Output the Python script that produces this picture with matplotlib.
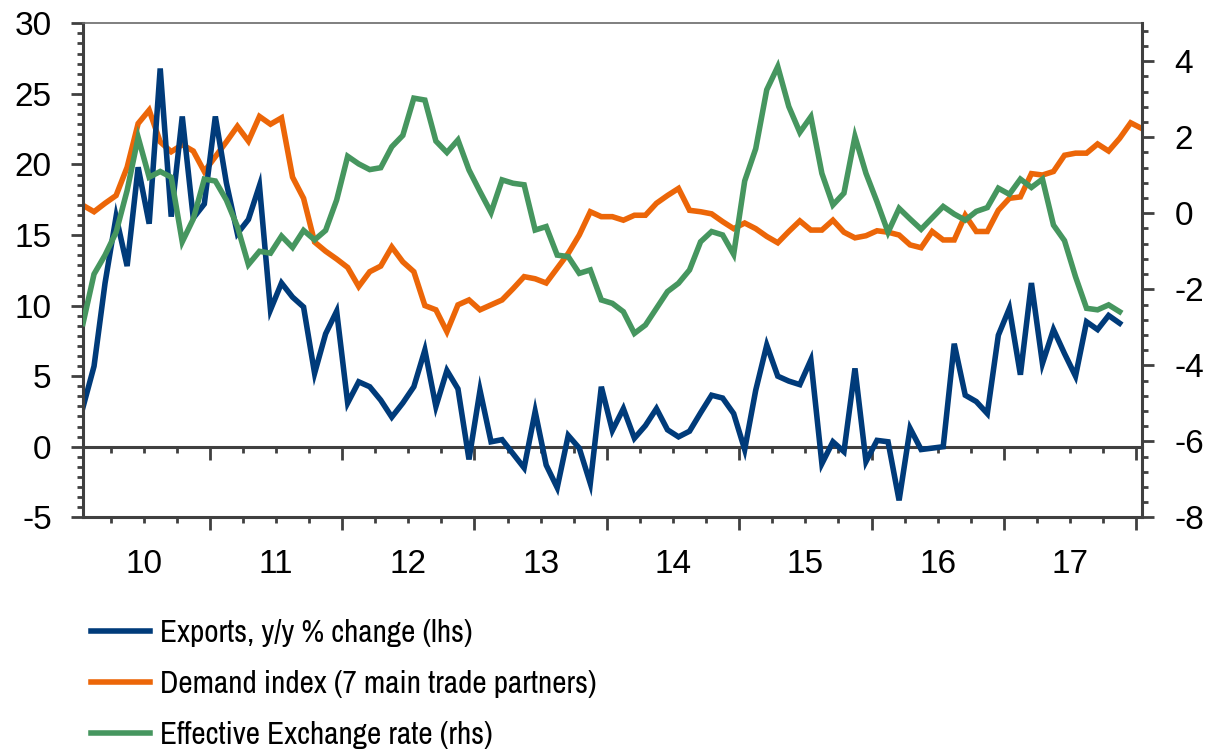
import numpy as np
import matplotlib as mpl
import matplotlib.pyplot as plt
from matplotlib.ticker import MultipleLocator, FixedLocator, FuncFormatter
from matplotlib import font_manager

installed = {f.name for f in font_manager.fontManager.ttflist}
narrow_choices = ['Liberation Sans Narrow', 'Arial Narrow', 'Archivo Narrow', 'PT Sans Narrow',
                  'Roboto Condensed', 'Fira Sans Condensed', 'IBM Plex Sans Condensed', 'Liberation Sans']
LEGEND_FONT = [f for f in narrow_choices if f in installed][0]
mpl.rcParams['font.family'] = 'Liberation Sans'
mpl.rcParams['font.size'] = 24
mpl.rcParams['axes.unicode_minus'] = False

# monthly data, Jan 2010 onwards
exports = [2.8, 5.7, 11.6, 16.3, 12.8, 19.8, 15.8, 26.8, 16.3, 23.4,
           16.2, 17.2, 23.4, 18.7, 15.1, 16.1, 18.5, 9.7, 11.6, 10.6,
           9.9, 5.2, 8.0, 9.6, 3.1, 4.6, 4.25, 3.3, 2.1, 3.1,
           4.25, 6.85, 2.85, 5.4, 4.1, -0.9, 4.0, 0.35, 0.5, -0.5,
           -1.5, 2.5, -1.3, -2.9, 0.8, -0.1, -2.6, 4.25, 1.15, 2.7,
           0.6, 1.5, 2.7, 1.2, 0.7, 1.1, 2.4, 3.65, 3.45, 2.35,
           -0.2, 4.0, 7.2, 5.0, 4.65, 4.4, 6.15, -1.2, 0.35, -0.35,
           5.55, -1.05, 0.45, 0.35, -3.8, 1.3, -0.2, -0.1, 0.0, 7.3,
           3.65, 3.2, 2.35, 7.9, 9.8, 5.1, 11.6, 5.9, 8.3, 6.6,
           5.0, 8.85, 8.3, 9.3, 8.75]

demand = [17.1, 16.65, 17.25, 17.8, 19.8, 22.9, 23.85, 21.6, 20.9, 21.4,
          20.95, 19.5, 20.55, 21.6, 22.7, 21.65, 23.4, 22.85, 23.3, 19.1,
          17.6, 14.5, 13.85, 13.3, 12.7, 11.35, 12.4, 12.8, 14.15, 13.1,
          12.4, 10.0, 9.7, 8.15, 10.05, 10.4, 9.7, 10.05, 10.4, 11.2,
          12.05, 11.9, 11.6, 12.65, 13.7, 15.0, 16.65, 16.3, 16.3, 16.05,
          16.4, 16.4, 17.25, 17.8, 18.3, 16.75, 16.65, 16.5, 15.95, 15.45,
          15.85, 15.45, 14.9, 14.45, 15.25, 16.0, 15.35, 15.35, 16.05, 15.2,
          14.8, 14.95, 15.3, 15.2, 15.0, 14.3, 14.1, 15.25, 14.65, 14.65,
          16.4, 15.25, 15.25, 16.75, 17.6, 17.7, 19.35, 19.25, 19.5, 20.65,
          20.8, 20.8, 21.45, 20.95, 21.85, 22.95, 22.55]

eer = [-2.9, -1.6, -1.1, -0.5, 0.6, 2.0, 0.95, 1.1, 0.95, -0.75,
       -0.15, 0.9, 0.85, 0.35, -0.35, -1.35, -1.0, -1.05, -0.6, -0.9,
       -0.45, -0.7, -0.45, 0.35, 1.5, 1.3, 1.15, 1.2, 1.75, 2.05,
       3.03, 2.98, 1.9, 1.6, 1.93, 1.14, 0.57, 0.02, 0.88, 0.79,
       0.75, -0.44, -0.35, -1.1, -1.14, -1.58, -1.49, -2.28, -2.37, -2.59,
       -3.16, -2.94, -2.5, -2.06, -1.84, -1.49, -0.75, -0.48, -0.57, -1.08,
       0.85, 1.7, 3.25, 3.86, 2.81, 2.13, 2.54, 1.05, 0.22, 0.53,
       2.02, 1.05, 0.3, -0.5, 0.13, -0.15, -0.42, -0.12, 0.18, -0.02,
       -0.18, 0.05, 0.15, 0.66, 0.5, 0.9, 0.68, 0.9, -0.31, -0.72,
       -1.67, -2.5, -2.54, -2.41, -2.59]

year_labels = ['10', '11', '12', '13', '14', '15', '16', '17']
series_labels = ['Exports, y/y % change (lhs)',
                 'Demand index (7 main trade partners)',
                 'Effective Exchange rate (rhs)']

BLUE = '#003b7a'
ORANGE = '#ec6608'
GREEN = '#46965f'
DARK = '#404040'
LW = 4.0

fig = plt.figure(figsize=(12.1, 7.55), dpi=100)
ax = fig.add_axes([83 / 1210, 1 - 517.3 / 755, (1141.7 - 83) / 1210, (517.3 - 23.3) / 755])
ax2 = ax.twinx()

l2, = ax.plot(np.arange(len(demand)), demand, color=ORANGE, lw=LW, solid_joinstyle='miter')
l1, = ax.plot(np.arange(len(exports)), exports, color=BLUE, lw=LW, solid_joinstyle='miter')
l3, = ax2.plot(np.arange(len(eer)), eer, color=GREEN, lw=LW, solid_joinstyle='miter')

ax.set_xlim(0, 96)
ax.set_ylim(-5, 30)
ax2.set_ylim(-8, 5)

# y axes
ax.yaxis.set_major_locator(MultipleLocator(5))
ax.yaxis.set_minor_locator(MultipleLocator(5 / 7))
ax2.yaxis.set_major_locator(MultipleLocator(2))
ax2.yaxis.set_minor_locator(MultipleLocator(0.4))
ax.tick_params(axis='y', which='major', length=8.5, width=2, color=DARK, pad=14)
ax.tick_params(axis='y', which='minor', length=4.5, width=2, color=DARK)
ax2.tick_params(axis='y', which='major', length=8.5, width=2, color=DARK, pad=15)
ax2.tick_params(axis='y', which='minor', length=4.5, width=2, color=DARK)

# x axis: year boundaries + quarters, year label centred in the year
year_edges = np.arange(11.5, 96, 12)
quarters = np.arange(2.5, 96, 3)
ax.xaxis.set_major_locator(FixedLocator(year_edges))
ax.xaxis.set_major_formatter(FuncFormatter(lambda x, pos: ''))
ax.xaxis.set_minor_locator(FixedLocator(quarters))


def year_fmt(x, pos):
    k = (x - 5.5) / 12
    if abs(k - round(k)) < 1e-6 and 0 <= round(k) < len(year_labels):
        return year_labels[int(round(k))]
    return ''


ax.xaxis.set_minor_formatter(FuncFormatter(year_fmt))
ax.tick_params(axis='x', which='major', length=9, width=2, color=DARK)
ax.tick_params(axis='x', which='minor', length=4.5, width=2, color=DARK, pad=18)

# zero line with its own tick marks
zero = ax.secondary_xaxis(5 / 35)
zero.xaxis.set_major_locator(FixedLocator(year_edges))
zero.xaxis.set_minor_locator(FixedLocator(quarters))
zero.tick_params(axis='x', which='major', length=9, width=2, color=DARK, labelbottom=False)
zero.tick_params(axis='x', which='minor', length=4.5, width=2, color=DARK, labelbottom=False)
zero.spines['bottom'].set_color(DARK)
zero.spines['bottom'].set_linewidth(2.2)

for s in ['left', 'bottom']:
    ax.spines[s].set_color(DARK)
    ax.spines[s].set_linewidth(2.2)
ax.spines['top'].set_color('#6a6a6a')
ax.spines['top'].set_linewidth(1.2)
ax.spines['right'].set_visible(False)
for s in ['left', 'bottom', 'top']:
    ax2.spines[s].set_visible(False)
ax2.spines['right'].set_color(DARK)
ax2.spines['right'].set_linewidth(2.2)

leg = ax.legend([l1, l2, l3], series_labels, loc='upper left',
                bbox_to_anchor=(91 / 1210, 1 - 619 / 755), bbox_transform=fig.transFigure,
                frameon=False, prop={'family': LEGEND_FONT, 'size': 22.5},
                handlelength=1.9, handletextpad=0.3, labelspacing=0.73,
                borderpad=0, borderaxespad=0)

fig.savefig('out.png', dpi=100)
